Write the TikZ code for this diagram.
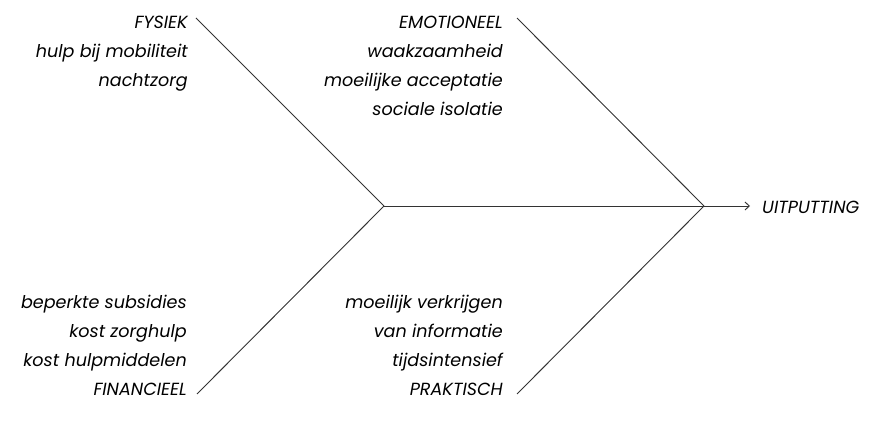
\documentclass[tikz,border=0pt]{standalone}
\usepackage{fontspec}
\setmainfont{Poppins}
\usetikzlibrary{arrows.meta}
\tikzset{>={Straight Barb[length=1.3mm,width=2.4mm]}}
\tikzset{
  lbl/.style={anchor=base east, inner sep=0pt, font=\fontsize{15pt}{18pt}\selectfont\itshape},
  bone/.style={line width=0.8pt, black!80}
}

\begin{document}
\begin{tikzpicture}[x=0.03cm, y=-0.03cm]
\useasboundingbox (0,0) rectangle (885,426);

% junctions on the spine
\coordinate (j1) at (384,206);
\coordinate (j2) at (704,206);
\coordinate (tip) at (750,206);

% free ends of the branches
\coordinate (fys) at (196,18);
\coordinate (emo) at (517,18);
\coordinate (fin) at (197,394);
\coordinate (pra) at (517,394);

% labels
\foreach \txt [count=\i] in {FYSIEK, hulp bij mobiliteit, nachtzorg}
  \node[lbl] (fys\i) at (188,{28.5+29*(\i-1)}) {\txt};
\foreach \txt [count=\i] in {EMOTIONEEL, waakzaamheid, moeilijke acceptatie, sociale isolatie}
  \node[lbl] (emo\i) at (503,{28.5+29*(\i-1)}) {\txt};
\foreach \txt [count=\i] in {beperkte subsidies, kost zorghulp, kost hulpmiddelen, FINANCIEEL}
  \node[lbl] (fin\i) at (187,{308.5+29*(\i-1)}) {\txt};
\foreach \txt [count=\i] in {moeilijk verkrijgen, van informatie, tijdsintensief, PRAKTISCH}
  \node[lbl] (pra\i) at (503,{308.5+29*(\i-1)}) {\txt};
\node[lbl, anchor=base west] (uit) at (762,213.5) {UITPUTTING};

% bones
\draw[bone] (fys) -- (j1);
\draw[bone] (fin) -- (j1);
\draw[bone] (emo) -- (j2);
\draw[bone] (pra) -- (j2);
\draw[bone] (j1) -- (j2);
\draw[bone, ->] (j2) -- (tip);
\end{tikzpicture}
\end{document}
